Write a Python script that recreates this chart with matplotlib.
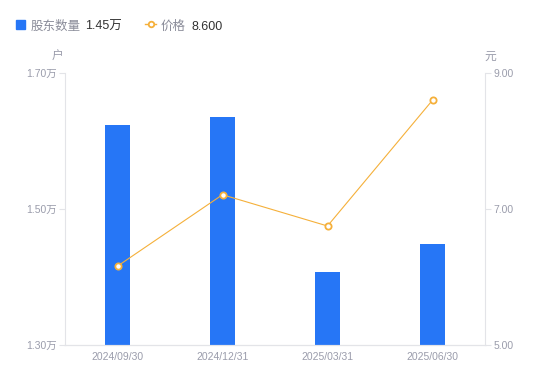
import matplotlib.pyplot as plt
from matplotlib.lines import Line2D

plt.rcParams['font.family'] = ['Liberation Sans', 'Noto Sans CJK SC', 'DejaVu Sans']

dates = ['2024/09/30', '2024/12/31', '2025/03/31', '2025/06/30']
holders = [1.623, 1.635, 1.407, 1.449]   # 万户
price = [6.16, 7.21, 6.75, 8.60]         # 元

left_ticks = [1.30, 1.50, 1.70]
right_ticks = [5.00, 7.00, 9.00]

bar_color = '#2676f6'
line_color = '#f5b03a'
axis_color = '#e3e4e8'
label_color = '#9a9cab'

fig = plt.figure(figsize=(5.5, 3.81), dpi=100)
ax = fig.add_axes([65 / 550, 36 / 381, 420 / 550, 272 / 381])
ax2 = ax.twinx()

x = list(range(len(dates)))
ax.bar(x, holders, width=0.24, color=bar_color, zorder=2)
ax.set_xlim(-0.5, 3.5)
ax.set_ylim(1.30, 1.70)
ax.set_yticks(left_ticks)
ax.set_yticklabels([f'{v:.2f}万' for v in left_ticks])
ax.set_xticks(x)
ax.set_xticklabels(dates)

ax2.plot(x, price, color=line_color, lw=0.8, marker='o', ms=4.5,
         mfc='white', mec=line_color, mew=1.3, zorder=3)
ax2.set_ylim(5.0, 9.0)
ax2.set_yticks(right_ticks)
ax2.set_yticklabels([f'{v:.2f}' for v in right_ticks])

for a in (ax, ax2):
    for s in a.spines.values():
        s.set_color(axis_color)
    a.spines['top'].set_visible(False)
    a.tick_params(colors=label_color, labelsize=7.5, length=4, width=0.8,
                  color=axis_color, pad=2)
ax.tick_params(axis='x', length=0, pad=5)
ax2.spines['left'].set_visible(False)
ax.spines['right'].set_visible(False)

fig.text(58 / 550, 1 - 57 / 381, '户', color=label_color, fontsize=8.5,
         ha='center', va='center')
fig.text(490 / 550, 1 - 57 / 381, '元', color=label_color, fontsize=8.5,
         ha='center', va='center')

# legend row
ly = 1 - 24 / 381
ty = 1 - 29.5 / 381
fig.patches.append(plt.Rectangle((16 / 550, ly - 4.5 / 381), 9 / 550, 9 / 381,
                                 transform=fig.transFigure, color=bar_color))
fig.text(31 / 550, ty, '股东数量', color='#8a8c99', fontsize=9, va='baseline')
fig.text(85 / 550, ty, '1.45万', color='#333333', fontsize=9, va='baseline')
fig.lines.append(Line2D([145 / 550, 156 / 550], [ly, ly], transform=fig.transFigure,
                        color=line_color, lw=1))
fig.lines.append(Line2D([150.5 / 550], [ly], transform=fig.transFigure,
                        color=line_color, marker='o', ms=4, mfc='white',
                        mec=line_color, mew=1.3))
fig.text(161 / 550, ty, '价格', color='#8a8c99', fontsize=9, va='baseline')
fig.text(191 / 550, ty, '8.600', color='#333333', fontsize=9, va='baseline')

fig.savefig('out.png', dpi=100)
